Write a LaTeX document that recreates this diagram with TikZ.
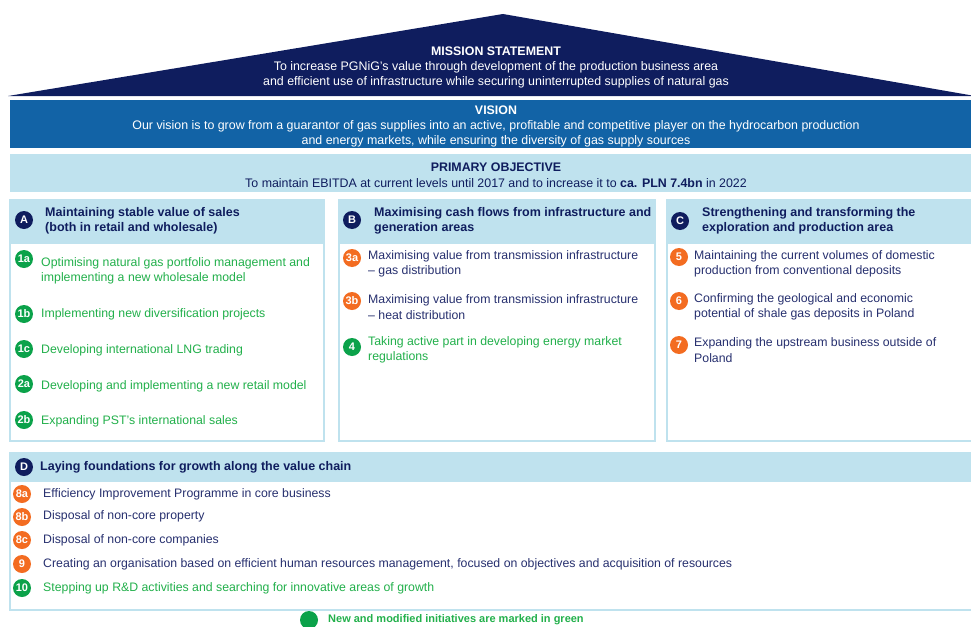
\documentclass[tikz,border=0pt]{standalone}
\usepackage{fontspec}
\setmainfont{Liberation Sans}
\definecolor{navy}{HTML}{0F1D5E}
\definecolor{navytxt}{HTML}{27306F}
\definecolor{visblue}{HTML}{1263A6}
\definecolor{lblue}{HTML}{BFE2EE}
\definecolor{gtxt}{HTML}{22B04B}
\definecolor{gbadge}{HTML}{0BA24A}
\definecolor{obadge}{HTML}{F36C21}
\tikzset{
  itemtxt/.style={anchor=west, align=left, inner sep=0pt, text=navytxt, font=\fontsize{12.3}{15.5}\selectfont},
  greentxt/.style={itemtxt, text=gtxt},
  headtxt/.style={anchor=west, align=left, inner sep=0pt, text=navy, font=\bfseries\fontsize{12.5}{15.5}\selectfont},
  badge/.style={circle, inner sep=0pt, minimum size=18pt, text=white, font=\bfseries\fontsize{11}{11}\selectfont},
  gbadgest/.style={badge, fill=gbadge},
  obadgest/.style={badge, fill=obadge},
  hbadge/.style={badge, fill=navy, minimum size=18pt},
  panel/.style={draw=lblue, line width=2pt, fill=white},
  phead/.style={fill=lblue},
  ctr/.style={align=center, inner sep=0pt, font=\fontsize{12.4}{15}\selectfont},
  ctrtitle/.style={ctr, font=\bfseries\fontsize{12.4}{15}\selectfont}
}
\begin{document}
\begin{tikzpicture}[x=1pt,y=-1pt]
\useasboundingbox (0,0) rectangle (971,626);
% mission
\fill[navy] (8,96) -- (503,14) -- (975,96) -- cycle;
\node[ctrtitle, text=white] (mt) at (496,51) {MISSION STATEMENT};
\node[ctrtitle, ctr, text=white] (mx) at (496,74.5) {To increase PGNiG's value through development of the production business area\\and efficient use of infrastructure while securing uninterrupted supplies of natural gas};
% vision
\fill[visblue] (10,100) rectangle (975,148);
\node[ctrtitle, text=white] (vt) at (496,110) {VISION};
\node[ctr, text=white] (vx) at (496,134) {Our vision is to grow from a guarantor of gas supplies into an active, profitable and competitive player on the hydrocarbon production\\and energy markets, while ensuring the diversity of gas supply sources};
% primary objective
\fill[lblue] (10,154) rectangle (975,192);
\node[ctrtitle, text=navy] (pt) at (496,167) {PRIMARY OBJECTIVE};
\node[ctr, text=navy] (px) at (496,183) {To maintain EBITDA at current levels until 2017 and to increase it to \textbf{ca. PLN 7.4bn} in 2022};
% panels
\draw[panel] (10,200) rectangle (324,441);
\fill[phead] (10,200) rectangle (324,244);
\draw[panel] (339,200) rectangle (655,441);
\fill[phead] (339,200) rectangle (655,244);
\draw[panel] (667,200) rectangle (978,441);
\fill[phead] (667,200) rectangle (978,244);
\draw[panel] (10,453) rectangle (978,610);
\fill[phead] (10,453) rectangle (978,482);
% column A
\node[hbadge] (bA) at (24,220) {A};
\node[headtxt] (hA) at (45,221) {Maintaining stable value of sales\\(both in retail and wholesale)};
\node[gbadgest] (b1a) at (24,259) {1a};
\node[greentxt] (t1a) at (41,271) {Optimising natural gas portfolio management and\\implementing a new wholesale model};
\node[gbadgest] (b1b) at (24,314) {1b};
\node[greentxt] (t1b) at (41,314) {Implementing new diversification projects};
\node[gbadgest] (b1c) at (24,349) {1c};
\node[greentxt] (t1c) at (41,350) {Developing international LNG trading};
\node[gbadgest] (b2a) at (24,384) {2a};
\node[greentxt] (t2a) at (41,386) {Developing and implementing a new retail model};
\node[gbadgest] (b2b) at (24,420) {2b};
\node[greentxt] (t2b) at (41,421) {Expanding PST's international sales};
% column B
\node[hbadge] (bB) at (352,220) {B};
\node[headtxt] (hB) at (374,221) {Maximising cash flows from infrastructure and\\generation areas};
\node[obadgest] (b3a) at (352,258) {3a};
\node[itemtxt] (t3a) at (368,264) {Maximising value from transmission infrastructure\\-- gas distribution};
\node[obadgest] (b3b) at (352,301) {3b};
\node[itemtxt] (t3b) at (368,307) {Maximising value from transmission infrastructure\\-- heat distribution};
\node[gbadgest] (b4) at (352,347) {4};
\node[greentxt] (t4) at (368,350) {Taking active part in developing energy market\\regulations};
% column C
\node[hbadge] (bC) at (680,221) {C};
\node[headtxt] (hC) at (702,221) {Strengthening and transforming the\\exploration and production area};
\node[obadgest] (b5) at (679,257) {5};
\node[itemtxt] (t5) at (694,264) {Maintaining the current volumes of domestic\\production from conventional deposits};
\node[obadgest] (b6) at (679,301) {6};
\node[itemtxt] (t6) at (694,307) {Confirming the geological and economic\\potential of shale gas deposits in Poland};
\node[obadgest] (b7) at (679,345) {7};
\node[itemtxt] (t7) at (694,350) {Expanding the upstream business outside of\\Poland};
% D
\node[hbadge] (bD) at (24,467) {D};
\node[headtxt] (hD) at (40,467) {Laying foundations for growth along the value chain};
\node[obadgest] (b8a) at (22,494) {8a};
\node[itemtxt] (t8a) at (43,494) {Efficiency Improvement Programme in core business};
\node[obadgest] (b8b) at (22,517) {8b};
\node[itemtxt] (t8b) at (43,516) {Disposal of non-core property};
\node[obadgest] (b8c) at (22,540) {8c};
\node[itemtxt] (t8c) at (43,540) {Disposal of non-core companies};
\node[obadgest] (b9) at (22,564) {9};
\node[itemtxt] (t9) at (43,564) {Creating an organisation based on efficient human resources management, focused on objectives and acquisition of resources};
\node[gbadgest] (b10) at (22,588) {10};
\node[greentxt] (t10) at (43,588) {Stepping up R\&D activities and searching for innovative areas of growth};
% legend
\node[circle, fill=gbadge, minimum size=18pt, inner sep=0pt] (lg) at (309,620) {};
\node[anchor=west, inner sep=0pt, text=gtxt, font=\bfseries\fontsize{11}{12}\selectfont] (lt) at (328,620) {New and modified initiatives are marked in green};
\end{tikzpicture}
\end{document}
